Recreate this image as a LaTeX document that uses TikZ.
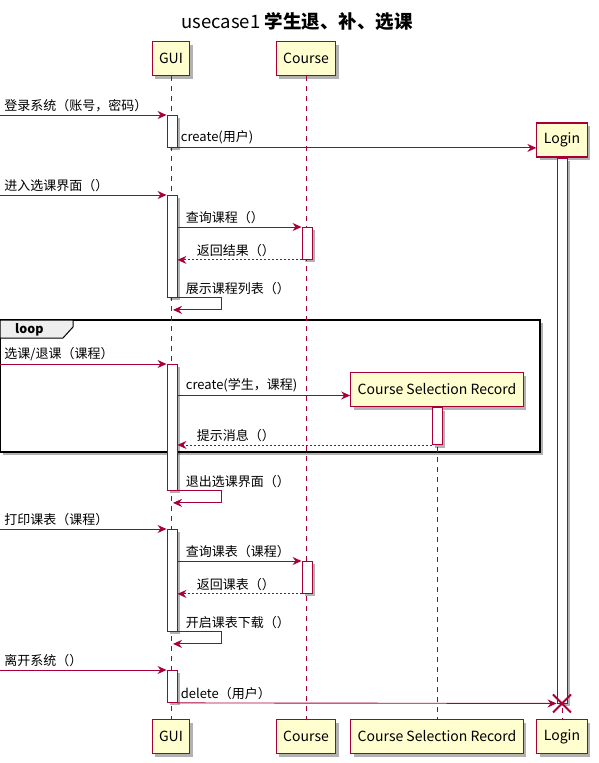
\documentclass[tikz,border=0pt]{standalone}
\usepackage{fontspec}
\setmainfont{Noto Sans CJK SC}
\usetikzlibrary{arrows.meta,shadows}

\definecolor{umlred}{HTML}{A80036}
\definecolor{umlyellow}{HTML}{FEFECE}
\definecolor{tabgray}{HTML}{EEEEEE}

\tikzset{
  boxshadow/.style={drop shadow={shadow xshift=3pt, shadow yshift=-3pt, opacity=0.3, fill=black}},
  participant/.style={draw=umlred, fill=umlyellow, line width=1.1pt, minimum height=34pt,
    inner xsep=7pt, font=\fontsize{14}{16}\selectfont, boxshadow},
  activation/.style={draw=umlred, fill=white, line width=0.9pt, minimum width=10pt,
    inner sep=0pt, anchor=north, boxshadow},
  lifeline/.style={draw=umlred, line width=0.9pt, dash pattern=on 5pt off 5pt},
  msg/.style={draw=umlred, line width=0.9pt, -{Stealth[length=9pt, width=8pt, inset=3pt]}},
  reply/.style={msg, dash pattern=on 2pt off 2pt},
  lbl/.style={font=\fontsize{13}{15}\selectfont, inner sep=1pt, anchor=south west},
}

\begin{document}
\begin{tikzpicture}[x=1pt, y=-1pt]
  \useasboundingbox (0,0) rectangle (598,763);

  % Title
  \node[font=\fontsize{18.5}{20}\selectfont] (title) at (297,22) {usecase1 \textbf{学生退、补、选课}};

  % Loop frame
  \draw[black, line width=1.5pt, fill=white, boxshadow] (0,320) rectangle (540,452);
  \draw[black, line width=1pt, fill=tabgray] (0,320) -- (73,320) -- (73,327) -- (63,338) -- (0,338) -- cycle;
  \node[font=\bfseries\fontsize{12.5}{14}\selectfont, anchor=west, inner sep=0pt] (looptag) at (15,330) {loop};

  % Participants
  \node[participant] (guiTop) at (171,58.5) {GUI};
  \node[participant] (courseTop) at (306,58.5) {Course};
  \node[participant] (csrTop) at (437,389.5) {Course Selection Record};
  \node[participant] (loginTop) at (562,140) {Login};

  \node[participant] (guiBot) at (171,736.5) {GUI};
  \node[participant] (courseBot) at (306,736.5) {Course};
  \node[participant] (csrBot) at (437,736.5) {Course Selection Record};
  \node[participant] (loginBot) at (562,736.5) {Login};

  % Lifelines
  \draw[lifeline] (guiTop) -- (guiBot);
  \draw[lifeline] (courseTop) -- (courseBot);
  \draw[lifeline] (csrTop) -- (csrBot);
  \draw[lifeline] (loginTop) -- (loginBot);

  % Activations
  \node[activation, minimum height=32pt] (ga1) at (172,115) {};
  \node[activation, minimum height=102pt] (ga2) at (172,195) {};
  \node[activation, minimum height=126pt] (ga3) at (172,364) {};
  \node[activation, minimum height=102pt] (ga4) at (172,529) {};
  \node[activation, minimum height=32pt] (ga5) at (172,670) {};
  \node[activation, minimum height=32pt] (ca1) at (307,227) {};
  \node[activation, minimum height=32pt] (ca2) at (307,561) {};
  \node[activation, minimum height=37pt] (ra1) at (csrTop.south) {};
  \node[activation, minimum height=545pt] (la1) at (loginTop.south) {};

  % Found messages
  \coordinate (in1) at (0,115);
  \coordinate (in2) at (0,195);
  \coordinate (in3) at (0,364);
  \coordinate (in4) at (0,529);
  \coordinate (in5) at (0,670);

  % Login
  \draw[msg] (in1) -- node[lbl, pos=0, xshift=3pt, yshift=2pt] {登录系统（账号，密码）} (ga1.north west);
  \draw[msg] (ga1.south east) -- node[lbl, pos=0, xshift=2pt, yshift=2pt] {create(用户)} (loginTop.west |- ga1.south east);

  % Enter course selection
  \draw[msg] (in2) -- node[lbl, pos=0, xshift=3pt, yshift=2pt] {进入选课界面（）} (ga2.north west);
  \draw[msg] (ga2.east |- ca1.north) -- node[lbl, pos=0, xshift=7pt, yshift=2pt] {查询课程（）} (ca1.north west);
  \draw[reply] (ca1.south west) -- node[lbl, pos=1, xshift=18pt, yshift=2pt] {返回结果（）} (ga2.east |- ca1.south);
  \draw[msg] (ga2.south east) -- node[lbl, pos=0, xshift=7pt, yshift=2pt] {展示课程列表（）} ++(44,0) -- ++(0,12) -- ([yshift=-12pt, xshift=1pt]ga2.south);

  % Loop body
  \path ([yshift=-6pt]csrTop.west) coordinate (csrIn);
  \draw[msg] (in3) -- node[lbl, pos=0, xshift=3pt, yshift=2pt] {选课/退课（课程）} (ga3.north west);
  \draw[msg] (ga3.east |- csrIn) -- node[lbl, pos=0, xshift=7pt, yshift=2pt] {create(学生，课程)} (csrIn);
  \draw[reply] (ra1.south west) -- node[lbl, pos=1, xshift=18pt, yshift=2pt] {提示消息（）} (ga3.east |- ra1.south);
  \draw[msg] (ga3.south east) -- node[lbl, pos=0, xshift=7pt, yshift=2pt] {退出选课界面（）} ++(44,0) -- ++(0,12) -- ([yshift=-12pt, xshift=1pt]ga3.south);

  % Print timetable
  \draw[msg] (in4) -- node[lbl, pos=0, xshift=3pt, yshift=2pt] {打印课表（课程）} (ga4.north west);
  \draw[msg] (ga4.east |- ca2.north) -- node[lbl, pos=0, xshift=7pt, yshift=2pt] {查询课表（课程）} (ca2.north west);
  \draw[reply] (ca2.south west) -- node[lbl, pos=1, xshift=18pt, yshift=2pt] {返回课表（）} (ga4.east |- ca2.south);
  \draw[msg] (ga4.south east) -- node[lbl, pos=0, xshift=7pt, yshift=2pt] {开启课表下载（）} ++(44,0) -- ++(0,12) -- ([yshift=-12pt, xshift=1pt]ga4.south);

  % Leave
  \draw[msg] (in5) -- node[lbl, pos=0, xshift=3pt, yshift=2pt] {离开系统（）} (ga5.north west);
  \draw[msg] (ga5.south east) -- node[lbl, pos=0, xshift=2pt, yshift=2pt] {delete（用户）} (la1.south west);
  \draw[umlred, line width=2pt] ([shift={(-9pt,9pt)}]la1.south) -- ([shift={(9pt,-9pt)}]la1.south)
    ([shift={(-9pt,-9pt)}]la1.south) -- ([shift={(9pt,9pt)}]la1.south);
\end{tikzpicture}
\end{document}
